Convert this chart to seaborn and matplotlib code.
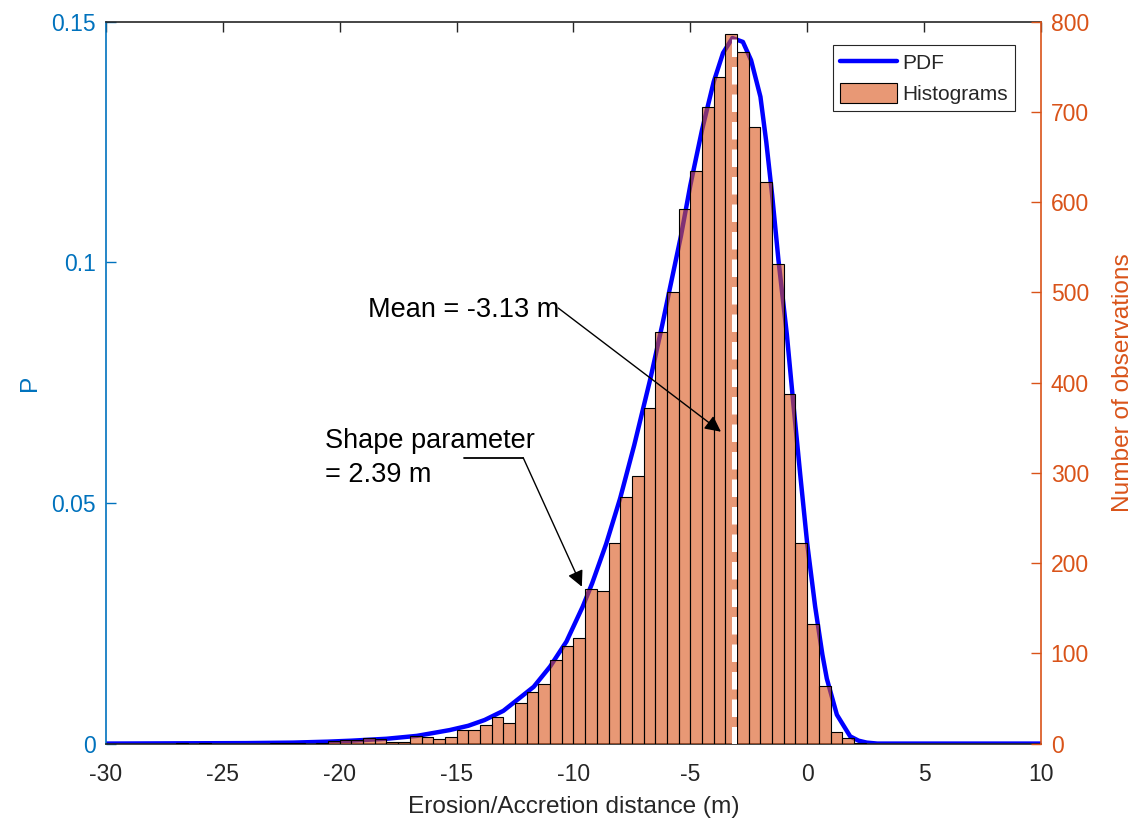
import numpy as np
import pandas as pd
import matplotlib.pyplot as plt
import seaborn as sns
from matplotlib.lines import Line2D
from matplotlib.patches import Patch

# histogram: 0.5 m bins from -30 to 10 m, counts
bin_width = 0.5
bin_left = np.arange(-30, 10, bin_width)
counts = [
    0, 0, 0, 0, 0, 0, 1, 0, 1, 0,          # -30 .. -25.5
    0, 0, 0, 0, 1, 1, 1, 0, 1, 3,          # -25 .. -20.5
    4, 4, 6, 5, 2, 2, 8, 7, 5, 7,          # -20 .. -15.5
    15, 15, 21, 30, 23, 45, 57, 66, 93, 108,   # -15 .. -10.5
    117, 171, 169, 222, 273, 296, 372, 456, 501, 592,  # -10 .. -5.5
    634, 706, 739, 786, 766, 683, 622, 532, 387, 222,  # -5 .. -0.5
    133, 64, 13, 6, 1, 0, 0, 0, 0, 0,      # 0 .. 4.5
    0, 0, 0, 0, 0, 0, 0, 0, 0, 0,          # 5 .. 9.5
]

# fitted PDF, points
pdf_x = [-30.0, -27.0, -24.0, -22.0, -20.5, -19.5, -18.0, -16.7, -15.3, -14.5,
         -13.8, -13.0, -12.4, -11.7, -11.0, -10.3, -9.6, -9.2, -8.6, -8.0,
         -7.4, -6.7, -6.2, -5.9, -5.4, -5.0, -4.5, -4.0, -3.6, -3.2,
         -2.75, -2.4, -2.0, -1.75, -1.5, -1.23, -0.87, -0.59, -0.30, 0.0,
         0.34, 0.65, 0.84, 1.27, 1.84, 2.2, 2.55, 3.0, 10.0]
pdf_p = [0.0, 0.00005, 0.0001, 0.0002, 0.0004, 0.0006, 0.0010, 0.0016, 0.0028, 0.0037,
         0.0049, 0.0068, 0.0091, 0.0118, 0.0160, 0.0212, 0.0285, 0.0333, 0.0415, 0.0510,
         0.0620, 0.0760, 0.0870, 0.0940, 0.1055, 0.1160, 0.1275, 0.1375, 0.1435, 0.1466,
         0.1458, 0.1420, 0.1344, 0.1250, 0.1140, 0.1005, 0.0850, 0.0705, 0.0560, 0.0416,
         0.0285, 0.0185, 0.0135, 0.0060, 0.0015, 0.0006, 0.0002, 0.0, 0.0]

mean_val = -3.13
p_ticks = [0, 0.05, 0.1, 0.15]
p_labels = ['0', '0.05', '0.1', '0.15']
n_ticks = [0, 100, 200, 300, 400, 500, 600, 700, 800]
x_ticks = [-30, -25, -20, -15, -10, -5, 0, 5, 10]

blue = '#0072BD'
orange = '#D95319'
dark = '#262626'
bar_face = (0.851, 0.325, 0.098, 0.6)

sns.set_style('white')
plt.rcParams['font.family'] = ['Liberation Sans', 'DejaVu Sans']

hist_df = pd.DataFrame({'center': bin_left + bin_width / 2, 'count': counts})

fig = plt.figure(figsize=(11.37, 8.22), dpi=100)
ax = fig.add_axes([0.0932, 0.0954, 0.8223, 0.8782])
ax2 = ax.twinx()

# PDF on the left axis
sns.lineplot(x=pdf_x, y=pdf_p, ax=ax, color=(0, 0, 1), linewidth=3.2,
             sort=False, estimator=None, legend=False)

# histogram on the right axis
sns.histplot(data=hist_df, x='center', weights='count', binwidth=bin_width,
             binrange=(-30, 10), ax=ax2, color=orange, edgecolor='black',
             linewidth=0.8)
for p in ax2.patches:
    p.set_alpha(None)
    p.set_facecolor(bar_face)
    p.set_edgecolor('black')

# mean line
ax2.plot([mean_val, mean_val], [0, 790], color='white', linewidth=3.6,
         dashes=(3.5, 2.0))

ax.set_xlim(-30, 10)
ax.set_ylim(0, 0.15)
ax2.set_ylim(0, 800)
ax.set_xticks(x_ticks)
ax.set_xticklabels([str(t) for t in x_ticks])
ax.set_yticks(p_ticks)
ax.set_yticklabels(p_labels)
ax2.set_yticks(n_ticks)

ax.tick_params(axis='x', direction='in', top=True, length=7, width=1,
               colors=dark, labelsize=16.5, pad=14)
ax.tick_params(axis='y', direction='in', length=7, width=1,
               colors=blue, labelsize=16.5, pad=7)
ax2.tick_params(axis='y', direction='in', length=7, width=1,
                colors=orange, labelsize=16.5, pad=7)

for s in ['top', 'bottom']:
    ax.spines[s].set_color(dark)
    ax.spines[s].set_linewidth(1.2)
    ax2.spines[s].set_visible(False)
ax.spines['left'].set_color(blue)
ax.spines['left'].set_linewidth(1.2)
ax.spines['right'].set_visible(False)
ax2.spines['left'].set_visible(False)
ax2.spines['right'].set_color(orange)
ax2.spines['right'].set_linewidth(1.2)

ax.set_xlabel('Erosion/Accretion distance (m)', fontsize=17.6, color=dark)
ax.xaxis.set_label_coords(0.5, -0.072)
ax.set_ylabel('P', fontsize=17.6, color=blue)
ax.yaxis.set_label_coords(-0.069, 0.5)
ax2.set_ylabel('Number of observations', fontsize=17.6, color=orange)
ax2.yaxis.set_label_coords(1.076, 0.5)

# annotations (drawn on top of the bars, placed in x / P coordinates)
tr = ax.transData
arrow = dict(arrowstyle='-|>', color='black', lw=1.0, mutation_scale=24,
             shrinkA=0, shrinkB=0)
ax2.text(-18.77, 0.0887, 'Mean = -3.13 m', transform=tr, fontsize=19.5,
         ha='left', va='baseline', color='black')
ax2.annotate('', xy=(-3.69, 0.0648), xytext=(-10.65, 0.0905),
             xycoords=tr, textcoords=tr, arrowprops=arrow)
ax2.text(-20.62, 0.0614, 'Shape parameter', transform=tr, fontsize=19.5,
         ha='left', va='baseline', color='black')
ax2.text(-20.62, 0.0544, '= 2.39 m', transform=tr, fontsize=19.5,
         ha='left', va='baseline', color='black')
ax2.plot([-14.67, -12.15], [0.0594 / 0.15 * 800] * 2, color='black', lw=1.3)
ax2.annotate('', xy=(-9.64, 0.0326), xytext=(-12.15, 0.0594),
             xycoords=tr, textcoords=tr, arrowprops=arrow)

handles = [Line2D([0], [0], color=(0, 0, 1), lw=3.2),
           Patch(facecolor=bar_face, edgecolor='black', linewidth=0.8)]
leg = ax2.legend(handles, ['PDF', 'Histograms'], loc='upper right',
                 bbox_to_anchor=(0.972, 0.968), fontsize=15, frameon=True,
                 fancybox=False, edgecolor=dark, framealpha=1,
                 handlelength=2.7, handleheight=1.1, borderpad=0.35,
                 labelspacing=0.45, handletextpad=0.25, borderaxespad=0)
leg.get_frame().set_linewidth(0.8)

fig.savefig('out.png', dpi=100)
